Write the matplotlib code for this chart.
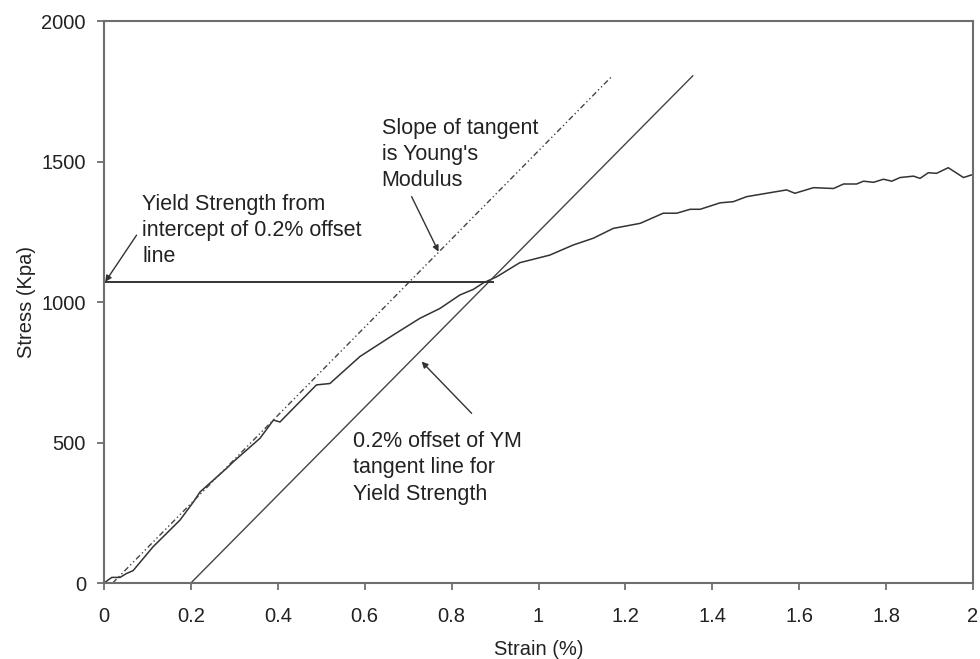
import numpy as np
import matplotlib
matplotlib.use('Agg')
from matplotlib import pyplot as plt
from matplotlib.ticker import FuncFormatter

plt.rcParams['font.family'] = ['Liberation Sans', 'DejaVu Sans']

# measured stress-strain curve
strain = [0.0, 0.018, 0.037, 0.052, 0.067, 0.113, 0.175, 0.206, 0.221, 0.282,
          0.298, 0.359, 0.390, 0.405, 0.436, 0.489, 0.520, 0.589, 0.666, 0.727,
          0.773, 0.819, 0.850, 0.873, 0.904, 0.957, 1.026, 1.080, 1.126, 1.172,
          1.234, 1.287, 1.318, 1.349, 1.372, 1.418, 1.448, 1.479, 1.525, 1.571,
          1.590, 1.633, 1.679, 1.702, 1.732, 1.748, 1.771, 1.794, 1.813, 1.832,
          1.863, 1.878, 1.897, 1.916, 1.943, 1.978, 2.0]
stress = [0, 20, 20, 34, 44, 129, 224, 289, 324, 408,
          432, 515, 580, 573, 622, 705, 710, 806, 883, 942,
          977, 1025, 1045, 1068, 1090, 1140, 1167, 1203, 1227, 1262,
          1280, 1316, 1316, 1330, 1330, 1353, 1357, 1375, 1387, 1399,
          1387, 1407, 1404, 1420, 1420, 1430, 1426, 1437, 1430, 1443,
          1448, 1440, 1460, 1458, 1478, 1443, 1454]

# Young's modulus tangent and its 0.2% offset
tangent_x = [0.02, 1.17]
tangent_y = [0, 1805]
offset_x = [0.2, 1.355]
offset_y = [0, 1805]
yield_stress = 1072
yield_strain = 0.895

xticks = [0, 0.2, 0.4, 0.6, 0.8, 1, 1.2, 1.4, 1.6, 1.8, 2]
yticks = [0, 500, 1000, 1500, 2000]

fig = plt.figure(figsize=(9.8, 6.59), dpi=100)
ax = fig.add_axes([0.1061, 0.1153, 0.8868, 0.8528])

ax.plot(strain, stress, color='#333333', lw=1.1)
ax.plot(tangent_x, tangent_y, color='#444444', lw=1.0,
        linestyle=(0, (4, 2, 1, 2, 1, 2)))
ax.plot(offset_x, offset_y, color='#444444', lw=1.0)
ax.plot([0, yield_strain], [yield_stress, yield_stress], color='#333333', lw=1.4)

ax.set_xlim(0, 2)
ax.set_ylim(0, 2000)
ax.set_xticks(xticks)
ax.set_yticks(yticks)
ax.xaxis.set_major_formatter(FuncFormatter(lambda v, p: '%g' % v))

for s in ax.spines.values():
    s.set_color('#6e6e6e')
    s.set_linewidth(1.5)
ax.tick_params(direction='out', length=5, width=1.3, color='#6e6e6e',
               labelsize=14.5, labelcolor='#222222')
ax.tick_params(axis='x', pad=12)
ax.tick_params(axis='y', pad=8)

ax.set_xlabel('Strain (%)', fontsize=14.5, color='#222222', labelpad=10)
ax.set_ylabel('Stress (Kpa)', fontsize=14.5, color='#222222', labelpad=4)

arrow = dict(arrowstyle='-|>', color='#333333', lw=1.0, mutation_scale=9,
             shrinkA=0, shrinkB=0)
tkw = dict(fontsize=15.5, color='#222222', linespacing=1.32, va='top', ha='left')

ax.annotate('', xy=(0.003, yield_stress), xytext=(0.075, 1238), arrowprops=arrow)
ax.text(0.088, 1385, 'Yield Strength from\nintercept of 0.2% offset\nline', **tkw)

ax.annotate('', xy=(0.770, 1179), xytext=(0.708, 1375), arrowprops=arrow)
ax.text(0.639, 1655, "Slope of tangent\nis Young's\nModulus", **tkw)

ax.annotate('', xy=(0.731, 788), xytext=(0.846, 604), arrowprops=arrow)
ax.text(0.573, 540, '0.2% offset of YM\ntangent line for\nYield Strength', **tkw)

fig.savefig('out.png', dpi=100)
